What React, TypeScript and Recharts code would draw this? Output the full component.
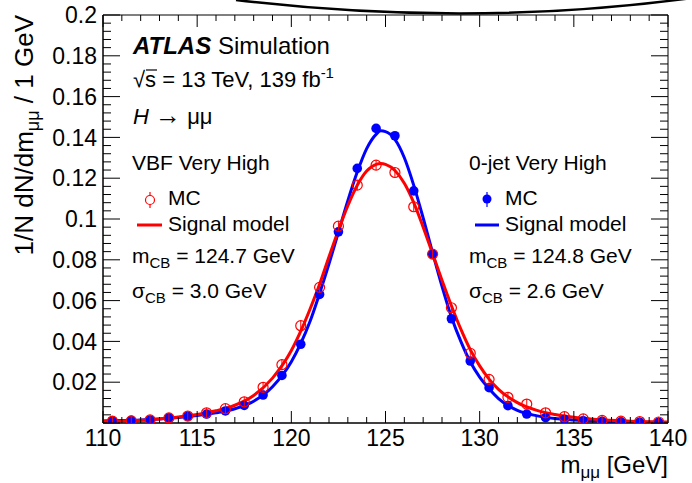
import React from "react";
import { ComposedChart, Line, Scatter, XAxis, YAxis, ReferenceArea } from "recharts";

// MC bin centres (1 GeV bins)
const binCenters = [
  110.5, 111.5, 112.5, 113.5, 114.5, 115.5, 116.5, 117.5, 118.5, 119.5,
  120.5, 121.5, 122.5, 123.5, 124.5, 125.5, 126.5, 127.5, 128.5, 129.5,
  130.5, 131.5, 132.5, 133.5, 134.5, 135.5, 136.5, 137.5, 138.5, 139.5,
];
// VBF Very High MC (red open circles)
const mcVbf = [
  0.0009, 0.001, 0.0015, 0.0025, 0.0034, 0.005, 0.007, 0.0104, 0.0175, 0.0286,
  0.0477, 0.0665, 0.0965, 0.1166, 0.1264, 0.1228, 0.106, 0.0828, 0.0565, 0.0342,
  0.0214, 0.0126, 0.0093, 0.005, 0.0031, 0.002, 0.0013, 0.0009, 0.0007, 0.0005,
];
// 0-jet Very High MC (blue filled circles)
const mcZeroJet = [
  0.0011, 0.0013, 0.0015, 0.0025, 0.0033, 0.0044, 0.0059, 0.0086, 0.0137, 0.0233,
  0.0386, 0.063, 0.0937, 0.1248, 0.1444, 0.1408, 0.1138, 0.0828, 0.0511, 0.0304,
  0.0173, 0.0085, 0.0044, 0.0026, 0.0018, 0.0011, 0.0008, 0.0006, 0.0004, 0.0003,
];

// signal model curves
const modelX = [
  110, 111, 112, 113, 114, 115, 116, 117, 118, 119, 120, 120.5, 121, 121.5, 122,
  122.5, 123, 123.5, 124, 124.5, 124.75, 125, 125.5, 126, 126.5, 127, 127.5, 128,
  128.5, 129, 129.5, 130, 130.5, 131, 132, 133, 134, 135, 136, 137, 138, 139, 140,
];
const modelVbf = [
  0.0008, 0.001, 0.0013, 0.002, 0.0029, 0.0042, 0.006, 0.0087, 0.0135, 0.022, 0.0355,
  0.045, 0.056, 0.068, 0.0815, 0.0945, 0.1065, 0.1165, 0.1235, 0.1268, 0.1272, 0.1268,
  0.1238, 0.1175, 0.108, 0.096, 0.083, 0.07, 0.0575, 0.046, 0.036, 0.028, 0.0215,
  0.0165, 0.01, 0.0063, 0.0042, 0.0028, 0.0019, 0.0013, 0.0009, 0.0006, 0.0005,
];
const modelZeroJet = [
  0.001, 0.0012, 0.0015, 0.002, 0.0027, 0.0037, 0.005, 0.007, 0.0107, 0.0178, 0.03,
  0.039, 0.05, 0.0635, 0.078, 0.0935, 0.109, 0.123, 0.1345, 0.1415, 0.1432, 0.1428,
  0.139, 0.13, 0.1165, 0.1005, 0.0835, 0.067, 0.052, 0.04, 0.03, 0.0225, 0.0168,
  0.012, 0.0062, 0.0036, 0.0022, 0.0015, 0.001, 0.0007, 0.0005, 0.0004, 0.0003,
];

const xTicks = [
  110, 111, 112, 113, 114, 115, 116, 117, 118, 119, 120, 121, 122, 123, 124, 125,
  126, 127, 128, 129, 130, 131, 132, 133, 134, 135, 136, 137, 138, 139, 140,
];
const xLabels = [110, 115, 120, 125, 130, 135, 140];
const yTicks = [
  0, 0.004, 0.008, 0.012, 0.016, 0.02, 0.024, 0.028, 0.032, 0.036, 0.04, 0.044,
  0.048, 0.052, 0.056, 0.06, 0.064, 0.068, 0.072, 0.076, 0.08, 0.084, 0.088, 0.092,
  0.096, 0.1, 0.104, 0.108, 0.112, 0.116, 0.12, 0.124, 0.128, 0.132, 0.136, 0.14,
  0.144, 0.148, 0.152, 0.156, 0.16, 0.164, 0.168, 0.172, 0.176, 0.18, 0.184, 0.188,
  0.192, 0.196, 0.2,
];
const yLabels = ["0.02", "0.04", "0.06", "0.08", "0.1", "0.12", "0.14", "0.16", "0.18", "0.2"];

const W = 692;
const H = 483;
const LEFT = 103;
const RIGHT = 668;
const TOP = 15;
const BOTTOM = 423;
const PLOT_W = RIGHT - LEFT;
const PLOT_H = BOTTOM - TOP;

const RED = "#ff0000";
const BLUE = "#0000ff";
const FONT = "'Liberation Sans', Arial, Helvetica, sans-serif";

const mcRows = binCenters.map((x, i) => ({ x, vbf: mcVbf[i], zeroJet: mcZeroJet[i] }));
const modelRows = modelX.map((x, i) => ({ x, vbf: modelVbf[i], zeroJet: modelZeroJet[i] }));

function XTick(props: any) {
  const { x, y, payload } = props;
  const major = xLabels.includes(payload.value);
  const len = major ? 12 : 6;
  return (
    <g>
      <line x1={x} x2={x} y1={y} y2={y - len} stroke="#000" strokeWidth={1} />
      <line x1={x} x2={x} y1={y - PLOT_H} y2={y - PLOT_H + len} stroke="#000" strokeWidth={1} />
      {major && (
        <text x={x} y={y + 23} textAnchor="middle" fontSize={23} fontFamily={FONT} fill="#000">
          {payload.value}
        </text>
      )}
    </g>
  );
}

function YTick(props: any) {
  const { x, y, payload } = props;
  const label = String(+Number(payload.value).toFixed(3));
  const major = yLabels.includes(label) || payload.value === 0;
  const len = major ? 17 : 8;
  return (
    <g>
      <line x1={x} x2={x + len} y1={y} y2={y} stroke="#000" strokeWidth={1} />
      <line x1={x + PLOT_W} x2={x + PLOT_W - len} y1={y} y2={y} stroke="#000" strokeWidth={1} />
      {yLabels.includes(label) && (
        <text x={x - 6} y={y} dy="0.36em" textAnchor="end" fontSize={23} fontFamily={FONT} fill="#000">
          {label}
        </text>
      )}
    </g>
  );
}

const openCircle = (props: any) => (
  <g>
    <line x1={props.cx} x2={props.cx} y1={props.cy - 5} y2={props.cy + 5} stroke={RED} strokeWidth={1} />
    <circle cx={props.cx} cy={props.cy} r={5} fill="none" stroke={RED} strokeWidth={1.2} />
  </g>
);
const filledCircle = (props: any) => <circle cx={props.cx} cy={props.cy} r={4.8} fill={BLUE} />;

export default function App() {
  return (
    <div style={{ position: "absolute", left: 0, top: 0, width: W, height: H, background: "#fff" }}>
      <ComposedChart width={W} height={H} margin={{ top: TOP, right: W - RIGHT, bottom: 0, left: 0 }}>
        <XAxis
          type="number"
          dataKey="x"
          domain={[110, 140]}
          ticks={xTicks}
          interval={0}
          tickSize={0}
          tickMargin={0}
          height={H - BOTTOM}
          axisLine={{ stroke: "#000" }}
          tickLine={false}
          tick={XTick}
          allowDataOverflow
        />
        <YAxis
          type="number"
          domain={[0, 0.2]}
          ticks={yTicks}
          interval={0}
          tickSize={0}
          tickMargin={0}
          width={LEFT}
          axisLine={{ stroke: "#000" }}
          tickLine={false}
          tick={YTick}
          allowDataOverflow
        />
        <ReferenceArea x1={110} x2={140} y1={0} y2={0.2} fill="none" stroke="#000" strokeWidth={1} />
        <Line
          data={modelRows}
          dataKey="zeroJet"
          type="monotone"
          stroke={BLUE}
          strokeWidth={3}
          dot={false}
          isAnimationActive={false}
        />
        <Line
          data={modelRows}
          dataKey="vbf"
          type="monotone"
          stroke={RED}
          strokeWidth={3}
          dot={false}
          isAnimationActive={false}
        />
        <Scatter data={mcRows} dataKey="zeroJet" shape={filledCircle} isAnimationActive={false} />
        <Scatter data={mcRows} dataKey="vbf" shape={openCircle} isAnimationActive={false} />
      </ComposedChart>

      <svg
        width={W}
        height={H}
        style={{ position: "absolute", left: 0, top: 0, pointerEvents: "none" }}
        fontFamily={FONT}
      >
        <path d="M 236 0 Q 470 28 692 -2" stroke="#000" strokeWidth={2.5} fill="none" />

        <text x={33} y={TOP} transform={`rotate(-90 33 ${TOP})`} textAnchor="end" fontSize={26}>
          1/N dN/dm
          <tspan dy={6} fontSize={18}>μμ</tspan>
          <tspan dy={-6}> / 1 GeV</tspan>
        </text>
        <text x={RIGHT} y={473} textAnchor="end" fontSize={24}>
          m<tspan dy={5} fontSize={17}>μμ</tspan>
          <tspan dy={-5}> [GeV]</tspan>
        </text>

        <text x={133} y={54} fontSize={24}>
          <tspan fontWeight="bold" fontStyle="italic">ATLAS</tspan> Simulation
        </text>
        <text x={133} y={87} fontSize={22}>
          √s = 13 TeV, 139 fb<tspan dy={-9} fontSize={15}>-1</tspan>
        </text>
        <line x1={146} x2={157} y1={70} y2={70} stroke="#000" strokeWidth={1.2} />
        <text x={133} y={124} fontSize={22}>
          <tspan fontStyle="italic">H</tspan> <tspan fontSize={26}>→</tspan> μμ
        </text>

        <text x={132} y={170} fontSize={21}>VBF Very High</text>
        <line x1={150} x2={150} y1={192} y2={208} stroke={RED} strokeWidth={1.2} />
        <circle cx={150} cy={200} r={4.5} fill="#fff" stroke={RED} strokeWidth={1.2} />
        <text x={168} y={205} fontSize={21}>MC</text>
        <line x1={137} x2={162} y1={225} y2={225} stroke={RED} strokeWidth={3} />
        <text x={168} y={231} fontSize={21}>Signal model</text>
        <text x={132} y={263} fontSize={21}>
          m<tspan dy={5} fontSize={15}>CB</tspan>
          <tspan dy={-5}> = 124.7 GeV</tspan>
        </text>
        <text x={132} y={298} fontSize={21}>
          σ<tspan dy={5} fontSize={15}>CB</tspan>
          <tspan dy={-5}> = 3.0 GeV</tspan>
        </text>

        <text x={469} y={170} fontSize={21}>0-jet Very High</text>
        <line x1={487} x2={487} y1={192} y2={207} stroke={BLUE} strokeWidth={1.2} />
        <circle cx={487} cy={199} r={4.5} fill={BLUE} />
        <text x={505} y={205} fontSize={21}>MC</text>
        <line x1={475} x2={499} y1={225} y2={225} stroke={BLUE} strokeWidth={3} />
        <text x={505} y={231} fontSize={21}>Signal model</text>
        <text x={469} y={263} fontSize={21}>
          m<tspan dy={5} fontSize={15}>CB</tspan>
          <tspan dy={-5}> = 124.8 GeV</tspan>
        </text>
        <text x={469} y={298} fontSize={21}>
          σ<tspan dy={5} fontSize={15}>CB</tspan>
          <tspan dy={-5}> = 2.6 GeV</tspan>
        </text>
      </svg>
    </div>
  );
}
